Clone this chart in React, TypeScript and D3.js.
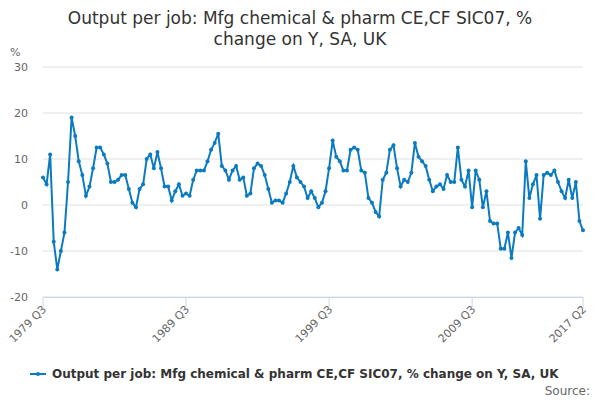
import * as d3 from 'd3'

const values = [
  6, 4.5, 11, -8, -14, -10, -6, 5, 19, 15,
  9.5, 6.5, 2, 4, 8, 12.5, 12.5, 11, 9, 5,
  5, 5.5, 6.5, 6.5, 3.5, 0.5, -0.5, 3.5, 4.5, 10,
  11, 8, 11.5, 8, 4, 4, 1, 3, 4.5, 2,
  2.5, 2, 5.5, 7.5, 7.5, 7.5, 9.5, 12, 13.5, 15.5,
  8.5, 7.5, 5.5, 7.5, 8.5, 5.5, 6, 2, 2.5, 8,
  9, 8.5, 6.5, 3.5, 0.5, 1, 1, 0.5, 2.5, 5,
  8.5, 6, 5, 4, 1.5, 3, 1.5, -0.5, 0.5, 3,
  8, 14, 10.5, 9.5, 7.5, 7.5, 12, 12.5, 12, 7.5,
  7, 1.5, 0.5, -1.5, -2.5, 5.5, 7, 12, 13, 8,
  4, 5.5, 5, 7, 13.5, 10.5, 9.5, 8.5, 5.5, 3,
  4, 4.5, 3.5, 6.5, 5, 5, 12.5, 5.5, 4, 7.5,
  -0.5, 7.5, 5.5, -0.5, 3, -3.5, -4, -4, -9.5, -9.5,
  -6, -11.5, -6, -5, -6.5, 9.5, 1.5, 4.5, 6.5, -3,
  6.5, 7, 6.5, 7.5, 5, 3, 1.5, 5.5, 1.5, 5,
  -3.5, -5.5,
]
const quarters = values.map((_, i) => {
  const q = i + 2 // 1979 Q3 -> index offset
  return `${1979 + Math.floor(q / 4)} Q${(q % 4) + 1}`
})
const tickLabels = ['1979 Q3', '1989 Q3', '1999 Q3', '2009 Q3', '2017 Q2']
const yTicks = [-20, -10, 0, 10, 20, 30]
const seriesName = 'Output per job: Mfg chemical & pharm CE,CF SIC07, % change on Y, SA, UK'

export default function App() {
  const font = 'DejaVu Sans, Verdana, sans-serif'
  const x = d3.scalePoint<string>().domain(quarters).range([43, 583])
  const y = d3.scaleLinear().domain([-20, 30]).range([297, 67])
  const line = d3.line<number>().x((_, i) => x(quarters[i])!).y(d => y(d))
  const color = '#0b7bc1'
  return (
    <svg width={600} height={400} style={{ position: 'absolute', left: 0, top: 0, fontFamily: font }}>
      <rect width={600} height={400} fill="#fff" />
      <text x={300} y={24} textAnchor="middle" fontSize={17} fill="#333">Output per job: Mfg chemical &amp; pharm CE,CF SIC07, %</text>
      <text x={300} y={45} textAnchor="middle" fontSize={17} fill="#333">change on Y, SA, UK</text>
      <text x={10} y={56} fontSize={11} fill="#666">%</text>
      {yTicks.map(t => (
        <g key={t}>
          <line x1={43} x2={583} y1={y(t)} y2={y(t)} stroke="#e0e0e0" />
          <text x={28} y={y(t) + 4} textAnchor="end" fontSize={11} fill="#666">{t}</text>
        </g>
      ))}
      <line x1={43} x2={583} y1={297.5} y2={297.5} stroke="#ccd6eb" />
      {tickLabels.map(t => {
        const px = x(t)!
        return (
          <g key={t}>
            <line x1={px} x2={px} y1={297} y2={307} stroke="#ccd6eb" />
            <text transform={`translate(${px + 4},${310}) rotate(-45)`} textAnchor="end" fontSize={11} fill="#666">{t}</text>
          </g>
        )
      })}
      <path d={line(values)!} fill="none" stroke={color} strokeWidth={2} />
      {values.map((v, i) => (
        <circle key={i} cx={x(quarters[i])} cy={y(v)} r={2} fill={color} />
      ))}
      <line x1={30} x2={46} y1={374} y2={374} stroke={color} strokeWidth={2} />
      <circle cx={38} cy={374} r={2} fill={color} />
      <text x={52} y={378} fontSize={12} fontWeight="bold" fill="#333">{seriesName}</text>
      <text x={590} y={395} textAnchor="end" fontSize={12} fill="#666">Source:</text>
    </svg>
  )
}
